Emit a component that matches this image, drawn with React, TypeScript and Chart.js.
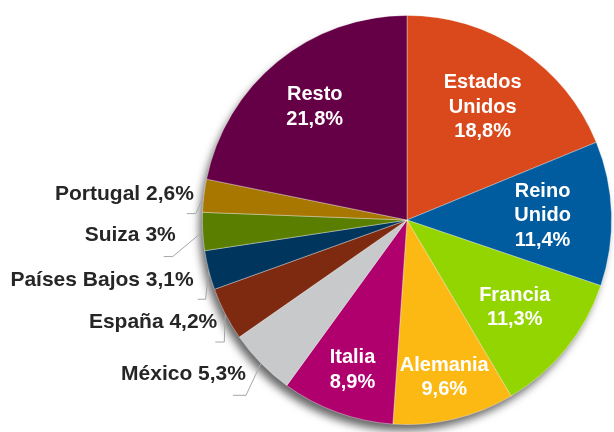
import React, { useEffect, useRef } from "react";
import { Chart, registerables } from "chart.js";

Chart.register(...registerables);

const countries = [
  "Estados Unidos",
  "Reino Unido",
  "Francia",
  "Alemania",
  "Italia",
  "México",
  "España",
  "Países Bajos",
  "Suiza",
  "Portugal",
  "Resto",
];
const shares = [18.8, 11.4, 11.3, 9.6, 8.9, 5.3, 4.2, 3.1, 3, 2.6, 21.8];
const colors = [
  "#D9491B",
  "#005B9F",
  "#93D500",
  "#FDB913",
  "#B0006E",
  "#C8C9CB",
  "#7E2A11",
  "#00365E",
  "#5A7F00",
  "#A87700",
  "#660046",
];
// how the names are broken onto lines inside the slices
const insideNameLines: Record<string, string[]> = {
  "Estados Unidos": ["Estados", "Unidos"],
  "Reino Unido": ["Reino", "Unido"],
  Francia: ["Francia"],
  Alemania: ["Alemania"],
  Italia: ["Italia"],
  Resto: ["Resto"],
};

// label placement styles (not data)
const insideRadius: Record<string, number> = {
  "Estados Unidos": 0.664,
  "Reino Unido": 0.663,
  Francia: 0.678,
  Alemania: 0.79,
  Italia: 0.78,
  Resto: 0.713,
};
const outsideStyle: Record<string, { elbow: [number, number]; len: number; text: [number, number] }> = {
  México: { elbow: [-15, 32], len: 13, text: [-15, 11] },
  España: { elbow: [-1, 28], len: 9, text: [-8, 8.5] },
  "Países Bajos": { elbow: [-3, 29], len: 8, text: [-15, 9.5] },
  Suiza: { elbow: [-30, 25], len: 9, text: [-27, 4] },
  Portugal: { elbow: [-8, 18], len: 9, text: [-10, -1.5] },
};

const fmt = (v: number) => v.toString().replace(".", ",") + "%";
const FONT_IN = 'bold 20px "Liberation Sans", Arial, sans-serif';
const FONT_OUT = 'bold 21px "Liberation Sans", Arial, sans-serif';

const shadowPlugin = {
  id: "pieShadow",
  beforeDatasetsDraw(chart: any) {
    const arc = chart.getDatasetMeta(0).data[0];
    if (!arc) return;
    const ctx = chart.ctx;
    ctx.save();
    ctx.shadowColor = "rgba(0,0,0,0.6)";
    ctx.shadowBlur = 9;
    ctx.shadowOffsetX = -4;
    ctx.shadowOffsetY = 7;
    ctx.fillStyle = "#888";
    ctx.beginPath();
    ctx.arc(arc.x, arc.y, arc.outerRadius - 1, 0, Math.PI * 2);
    ctx.fill();
    ctx.restore();
  },
};

const labelPlugin = {
  id: "pieLabels",
  afterDatasetsDraw(chart: any) {
    const ctx = chart.ctx;
    const meta = chart.getDatasetMeta(0);
    ctx.save();
    meta.data.forEach((arc: any, i: number) => {
      const name = countries[i];
      const mid = (arc.startAngle + arc.endAngle) / 2;
      const R = arc.outerRadius;
      if (insideRadius[name] !== undefined) {
        const r = R * insideRadius[name];
        const cx = arc.x + Math.cos(mid) * r;
        const cy = arc.y + Math.sin(mid) * r;
        const lines = [...insideNameLines[name], fmt(shares[i])];
        const lh = 24.5;
        ctx.font = FONT_IN;
        ctx.fillStyle = "#FFFFFF";
        ctx.textAlign = "center";
        ctx.textBaseline = "middle";
        lines.forEach((ln, k) => {
          ctx.fillText(ln, cx, cy + (k - (lines.length - 1) / 2) * lh);
        });
      } else if (outsideStyle[name]) {
        const st = outsideStyle[name];
        const ax = arc.x + Math.cos(mid) * R;
        const ay = arc.y + Math.sin(mid) * R;
        const ex = ax + st.elbow[0];
        const ey = ay + st.elbow[1];
        ctx.strokeStyle = "#A6A6A6";
        ctx.lineWidth = 1;
        ctx.beginPath();
        ctx.moveTo(ax, ay);
        ctx.lineTo(ex, ey);
        ctx.lineTo(ex - st.len, ey);
        ctx.stroke();
        ctx.font = FONT_OUT;
        ctx.fillStyle = "#262626";
        ctx.textAlign = "right";
        ctx.textBaseline = "middle";
        ctx.fillText(name + " " + fmt(shares[i]), ax + st.text[0], ay + st.text[1]);
      }
    });
    ctx.restore();
  },
};

export default function App() {
  const ref = useRef<HTMLCanvasElement | null>(null);
  useEffect(() => {
    document.body.style.margin = "0";
    if (!ref.current) return;
    const chart = new Chart(ref.current, {
      type: "pie",
      data: {
        labels: countries,
        datasets: [
          {
            data: shares,
            backgroundColor: colors,
            borderColor: "rgba(255,255,255,0.45)",
            borderWidth: 0.8,
          },
        ],
      },
      options: {
        responsive: false,
        animation: false,
        layout: { padding: { left: 202, right: 2, top: 15, bottom: 7 } },
        plugins: {
          legend: { display: false },
          tooltip: { enabled: false },
        },
      },
      plugins: [shadowPlugin, labelPlugin],
    });
    return () => chart.destroy();
  }, []);
  return (
    <div style={{ position: "fixed", left: 0, top: 0, width: 614, height: 432, background: "#fff" }}>
      <canvas ref={ref} width={614} height={432} style={{ width: 614, height: 432 }} />
    </div>
  );
}
